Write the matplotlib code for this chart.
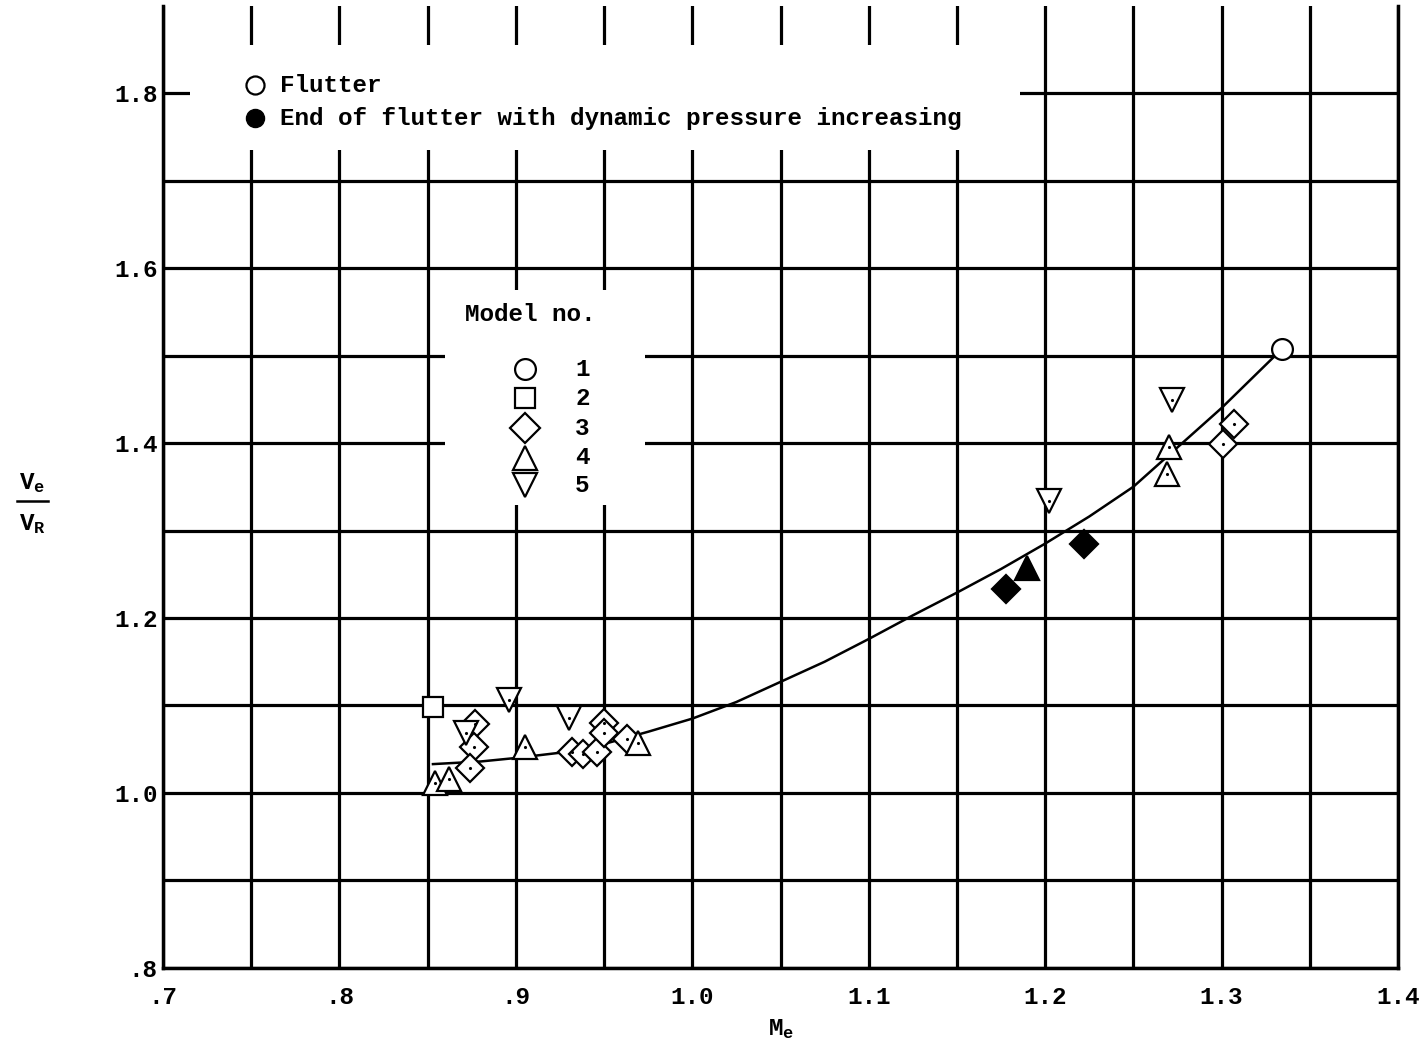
import numpy as np
import matplotlib
matplotlib.use('Agg')
import matplotlib.pyplot as plt
from matplotlib.patches import Rectangle
from matplotlib.lines import Line2D

plt.rcParams['font.family'] = ['Liberation Mono', 'DejaVu Sans Mono']
plt.rcParams['font.weight'] = 'bold'
plt.rcParams['mathtext.fontset'] = 'custom'
plt.rcParams['mathtext.rm'] = 'Liberation Mono:bold'
plt.rcParams['mathtext.it'] = 'Liberation Mono:bold'

# data (Mach number, Ve/VR)
m1_x = [1.334]
m1_y = [1.507]
m2_x = [0.853]
m2_y = [1.098]
m3_x = [0.877, 0.876, 0.874, 0.932, 0.938, 0.946, 0.950, 0.950, 0.963, 1.307, 1.301]
m3_y = [1.079, 1.052, 1.029, 1.047, 1.045, 1.047, 1.080, 1.068, 1.062, 1.422, 1.399]
m4_x = [0.854, 0.862, 0.905, 0.969, 1.270, 1.269]
m4_y = [1.011, 1.016, 1.052, 1.057, 1.396, 1.365]
m5_x = [0.872, 0.896, 0.930, 1.272, 1.202]
m5_y = [1.069, 1.106, 1.086, 1.449, 1.334]
end3_x = [1.178, 1.222]
end3_y = [1.233, 1.285]
end4_x = [1.190]
end4_y = [1.257]

curve_x = [0.853, 0.88, 0.90, 0.925, 0.95, 0.975, 1.0, 1.025, 1.05, 1.075, 1.10,
           1.125, 1.15, 1.175, 1.20, 1.225, 1.25, 1.275, 1.30, 1.334]
curve_y = [1.033, 1.036, 1.040, 1.046, 1.056, 1.070, 1.085, 1.104, 1.127, 1.150, 1.176,
           1.203, 1.229, 1.256, 1.285, 1.316, 1.350, 1.395, 1.440, 1.507]

xticks = [0.7, 0.8, 0.9, 1.0, 1.1, 1.2, 1.3, 1.4]
xlabels = ['.7', '.8', '.9', '1.0', '1.1', '1.2', '1.3', '1.4']
yticks = [0.8, 1.0, 1.2, 1.4, 1.6, 1.8]
ylabels = ['.8', '1.0', '1.2', '1.4', '1.6', '1.8']

model_markers = ['o', 's', 'D', '^', 'v']
model_labels = ['1', '2', '3', '4', '5']

FS = 17.5

fig = plt.figure(figsize=(14.2, 10.46), dpi=100)
ax = fig.add_axes([0.1148, 0.0746, 0.8697, 0.9201])

ax.plot(curve_x, curve_y, color='black', lw=1.8, zorder=3)

mk = dict(color='black', mec='black', mew=1.6, ls='none', zorder=4)
ax.plot(m1_x, m1_y, marker='o', ms=15, mfc='white', **mk)
ax.plot(m2_x, m2_y, marker='s', ms=14, mfc='white', **mk)
ax.plot(m3_x, m3_y, marker='D', ms=14.5, mfc='white', **mk)
ax.plot(m4_x, m4_y, marker='^', ms=17, mfc='white', **mk)
ax.plot(m5_x, m5_y, marker='v', ms=17, mfc='white', **mk)
ax.plot(end3_x, end3_y, marker='D', ms=14.5, mfc='black', **mk)
ax.plot(end4_x, end4_y, marker='^', ms=17, mfc='black', **mk)
# centre dots of open symbols
for xs, ys in [(m3_x, m3_y), (m4_x, m4_y), (m5_x, m5_y)]:
    ax.plot(xs, ys, marker='.', ms=2.5, color='black', ls='none', zorder=5)

ax.set_xlim(0.7, 1.4)
ax.set_ylim(0.8, 1.9)
ax.set_xticks(xticks)
ax.set_xticklabels(xlabels, fontsize=FS)
ax.set_xticks(np.arange(0.75, 1.4, 0.1), minor=True)
ax.set_yticks(yticks)
ax.set_yticklabels(ylabels, fontsize=FS)
ax.set_yticks(np.arange(0.9, 1.9, 0.2), minor=True)
ax.tick_params(which='both', length=0)
ax.tick_params(axis='x', pad=13)
ax.tick_params(axis='y', pad=4)
ax.grid(which='both', color='black', lw=2.3)
ax.set_axisbelow(True)
for s in ['left', 'bottom', 'right']:
    ax.spines[s].set_linewidth(2.5)
ax.spines['top'].set_visible(False)

ax.set_xlabel(r'$M_e$', fontsize=FS, labelpad=6)

# y label as a stacked fraction
fig.text(0.0225, 0.538, r'$V_e$', fontsize=FS, ha='center', va='center')
fig.add_artist(Line2D([0.012, 0.034], [0.521, 0.521], color='black', lw=1.8))
fig.text(0.0225, 0.499, r'$V_R$', fontsize=FS, ha='center', va='center')

# key: flutter kind (white box over the grid)
ax.add_patch(Rectangle((0.022, 0.850), 0.672, 0.109, transform=ax.transAxes,
                       facecolor='white', edgecolor='none', zorder=2))
ax.plot([0.0745], [0.9174], transform=ax.transAxes, marker='o', ms=13,
        mfc='white', mec='black', mew=1.6, zorder=4, clip_on=False)
ax.plot([0.0745], [0.8831], transform=ax.transAxes, marker='o', ms=13,
        mfc='black', mec='black', zorder=4, clip_on=False)
ax.text(0.0947, 0.9174, 'Flutter', transform=ax.transAxes, fontsize=FS,
        va='center', ha='left', zorder=4)
ax.text(0.0947, 0.8831, 'End of flutter with dynamic pressure increasing',
        transform=ax.transAxes, fontsize=FS, va='center', ha='left', zorder=4)

# key: model number
ax.add_patch(Rectangle((0.2283, 0.481), 0.162, 0.2234, transform=ax.transAxes,
                       facecolor='white', edgecolor='none', zorder=2))
ax.text(0.2972, 0.6795, 'Model no.', transform=ax.transAxes, fontsize=FS,
        va='center', ha='center', zorder=4)
row_y = [0.6223, 0.5922, 0.5610, 0.5299, 0.5018]
row_ms = [15, 14, 15, 17, 17]
for m, lab, yy, s in zip(model_markers, model_labels, row_y, row_ms):
    ax.plot([0.2931], [yy], transform=ax.transAxes, marker=m, ms=s,
            mfc='white', mec='black', mew=1.6, zorder=4)
    ax.text(0.3336, yy, lab, transform=ax.transAxes, fontsize=FS,
            va='center', ha='left', zorder=4)

fig.savefig('out.png', dpi=100)
